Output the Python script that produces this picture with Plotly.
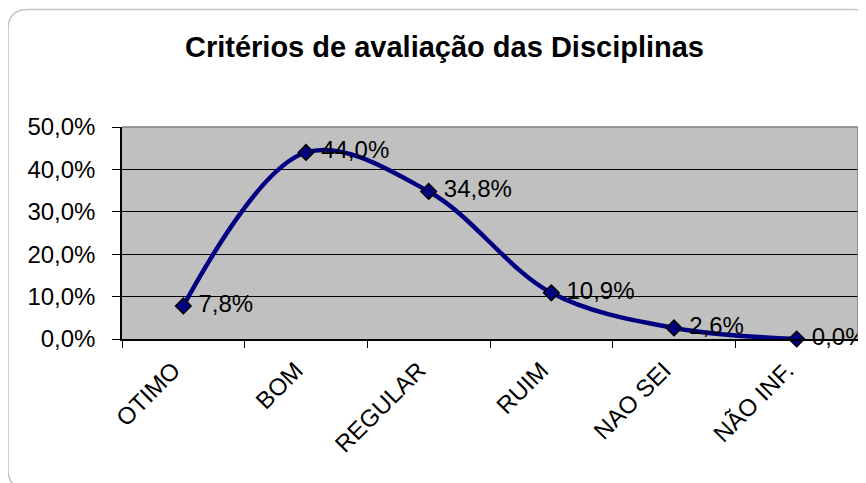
import plotly.graph_objects as go

categories = ["OTIMO", "BOM", "REGULAR", "RUIM", "NAO SEI", "NÃO INF."]
values = [0.078, 0.440, 0.348, 0.109, 0.026, 0.000]
y_ticks = [0.0, 0.1, 0.2, 0.3, 0.4, 0.5]
title_text = "Critérios de avaliação das Disciplinas"

W, H = 866, 483
L, R, T, B = 114, 16, 119, 152
pw, ph = W - L - R, H - T - B

def px(x):
    return (x - L) / pw

def py(y):
    return (H - B - y) / ph

FONT = "Liberation Sans, Arial, sans-serif"
FS = 24

fig = go.Figure()
fig.add_trace(go.Scatter(
    x=categories, y=values,
    mode="lines+markers+text",
    line=dict(color="#000080", width=4.5, shape="spline", smoothing=1.0),
    marker=dict(symbol="diamond", size=12, color="#000080",
                line=dict(color="black", width=1.5)),
    text=["\u00a0" + f"{v*100:.1f}%".replace(".", ",") for v in values],
    textposition="middle right",
    textfont=dict(family=FONT, size=FS, color="black"),
    cliponaxis=False,
    showlegend=False,
))

# chart area rounded border (extends past the right and bottom edges)
r = 20
x0, y0, x1, y1 = 0, 1.5, 866, 481
path = (f"M {px(x0 + r)},{py(y1)} Q {px(x0)},{py(y1)} {px(x0)},{py(y1 - r)} "
        f"L {px(x0)},{py(y0 + r)} "
        f"Q {px(x0)},{py(y0)} {px(x0 + r)},{py(y0)} "
        f"L {px(x1 - r)},{py(y0)} Q {px(x1)},{py(y0)} {px(x1)},{py(y0 + r)} "
        f"L {px(x1)},{py(y1 - r)} Q {px(x1)},{py(y1)} {px(x1 - r)},{py(y1)} Z")

fig.update_layout(
    width=W, height=H,
    margin=dict(l=L, r=R, t=T, b=B),
    paper_bgcolor="white",
    plot_bgcolor="#C0C0C0",
    separators=",.",
    title=dict(text=f"<b>{title_text}</b>", x=436.5 / W, xanchor="center",
               xref="container",
               y=1 - 39 / H, yanchor="middle", yref="container",
               font=dict(family=FONT, size=29, color="black")),
    font=dict(family=FONT, size=FS, color="black"),
    xaxis=dict(
        type="category", range=[-0.5, 5.5], tickson="boundaries",
        ticks="outside", ticklen=7, tickcolor="black", tickwidth=1,
        showline=True, linecolor="black", linewidth=1.5,
        showgrid=False, tickangle=-45, ticklabelstandoff=6,
        ticklabelshift=-10,
        tickfont=dict(family=FONT, size=FS, color="black"),
    ),
    yaxis=dict(
        range=[0, 0.5], tickvals=y_ticks, tickformat=".1%",
        ticks="outside", ticklen=8, tickcolor="black", tickwidth=1,
        showline=True, linecolor="black", linewidth=1.5,
        showgrid=True, gridcolor="black", gridwidth=1,
        zeroline=False, ticklabelstandoff=12,
        tickfont=dict(family=FONT, size=FS, color="black"),
    ),
    shapes=[
        dict(type="path", xref="paper", yref="paper",
             path="M 0,1 L 1,1 L 1,0", line=dict(color="#808080", width=1.5),
             layer="above"),
        dict(type="path", xref="paper", yref="paper", path=path,
             line=dict(color="#C4C4C4", width=1.5), layer="below"),
    ],
)

fig.write_html("out.html")
